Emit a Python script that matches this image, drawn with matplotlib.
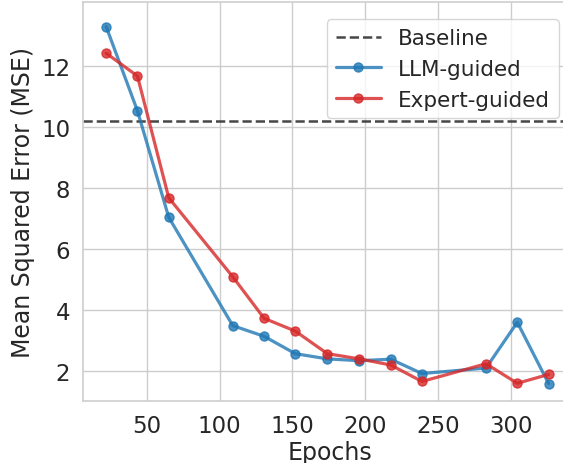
import numpy as np
import matplotlib
matplotlib.use("Agg")
import matplotlib.pyplot as plt
import seaborn as sns

epochs = [22, 43.5, 65, 109, 130.5, 152, 174, 196, 217.5, 239, 283, 304.5, 326]
llm_mse = [13.28, 10.52, 7.03, 3.48, 3.13, 2.56, 2.39, 2.33, 2.38, 1.91, 2.09, 3.59, 1.58]
expert_mse = [12.41, 11.66, 7.67, 5.08, 3.72, 3.30, 2.56, 2.39, 2.19, 1.65, 2.23, 1.59, 1.88]
baseline_mse = 10.2

sns.set_theme(style="whitegrid")
plt.rcParams['font.family'] = ['DejaVu Sans']

fig = plt.figure(figsize=(5.63, 4.64), dpi=100)
# axes runs a little past the right edge of the figure, as in the original crop
ax = fig.add_axes([0.148, 0.133, 0.875, 0.860])

ax.axhline(baseline_mse, color="#333333", linestyle="--", linewidth=1.8,
           alpha=0.9, label="Baseline")
ax.plot(epochs, llm_mse, marker="o", color="tab:blue", alpha=0.8,
        linewidth=2.3, markersize=6.5, label="LLM-guided")
ax.plot(epochs, expert_mse, marker="o", color="tab:red", alpha=0.8,
        linewidth=2.3, markersize=6.5, label="Expert-guided")

ax.set_xlim(6.3, 344.8)
ax.set_ylim(1.0, 14.08)
ax.set_xticks([50, 100, 150, 200, 250, 300])
ax.set_yticks([2, 4, 6, 8, 10, 12])
ax.tick_params(labelsize=16.5, colors="#262626")
ax.set_xlabel("Epochs", fontsize=17, color="#262626", labelpad=2)
ax.set_ylabel("Mean Squared Error (MSE)", fontsize=17, color="#262626")
for s in ax.spines.values():
    s.set_color("#d0d0d0")

ax.legend(loc="upper right", fontsize=15.5, framealpha=0.8,
          handlelength=2.1, borderaxespad=0.8)

fig.savefig("out.png", dpi=100)
